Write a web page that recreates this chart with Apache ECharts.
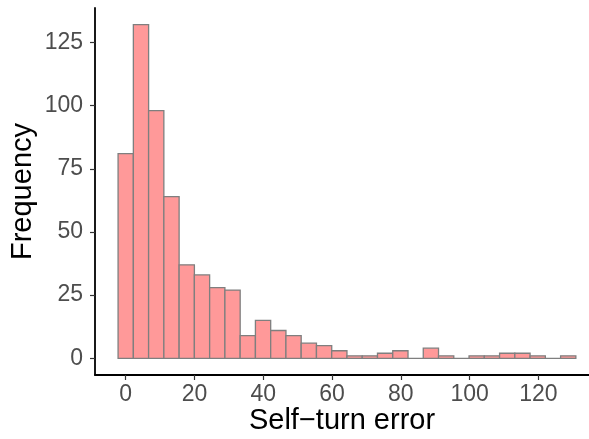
<!DOCTYPE html>
<html>
<head>
<meta charset="utf-8">
<script src="https://cdn.jsdelivr.net/npm/echarts@6/dist/echarts.min.js"></script>
<style>
html,body{margin:0;padding:0;background:#fff;}
#chart{width:589px;height:439px;}
</style>
</head>
<body>
<div id="chart"></div>
<script>
// Histogram bins (centres) and counts
const binCenters = [0, 4.44, 8.87, 13.31, 17.75, 22.18, 26.62, 31.06, 35.49, 39.93,
  44.37, 48.8, 53.24, 57.68, 62.11, 66.55, 70.99, 75.42, 79.86, 84.3,
  88.73, 93.17, 97.61, 102.04, 106.48, 110.92, 115.35, 119.79, 124.23, 128.66];
const binWidth = 4.437;
const counts = [81, 132, 98, 64, 37, 33, 28, 27, 9, 15,
  11, 9, 6, 5, 3, 1, 1, 2, 3, 0,
  4, 1, 0, 1, 1, 2, 2, 1, 0, 1];
const xTicks = [0, 20, 40, 60, 80, 100, 120];
const yTicks = [0, 25, 50, 75, 100, 125];
const xTitle = 'Self\u2212turn error';
const yTitle = 'Frequency';

const data = binCenters.map((c, i) => [c, counts[i]]);
const font = '"Liberation Sans", Arial, Helvetica, sans-serif';

const chart = echarts.init(document.getElementById('chart'), null, {renderer: 'canvas'});
chart.setOption({
  animation: false,
  backgroundColor: '#ffffff',
  grid: {left: 95, right: 0, top: 8, bottom: 64, containLabel: false, outerBoundsMode: 'none'},
  xAxis: {
    type: 'value',
    min: -8.93, max: 134.7,
    name: xTitle,
    nameLocation: 'middle',
    nameGap: 31,
    nameMoveOverlap: false,
    nameTextStyle: {fontSize: 29, color: '#000', fontFamily: font},
    axisLine: {show: true, onZero: false, lineStyle: {color: '#000', width: 1.8}},
    axisTick: {show: true, length: 5, customValues: xTicks, lineStyle: {color: '#333', width: 1.2}},
    axisLabel: {customValues: xTicks, color: '#4D4D4D', fontSize: 23, margin: 8, fontFamily: font},
    splitLine: {show: false}
  },
  yAxis: {
    type: 'value',
    min: -6.6, max: 138.6,
    name: yTitle,
    nameLocation: 'middle',
    nameGap: 58,
    nameMoveOverlap: false,
    nameRotate: 90,
    nameTextStyle: {fontSize: 29, color: '#000', fontFamily: font},
    axisLine: {show: true, onZero: false, lineStyle: {color: '#000', width: 1.8}},
    axisTick: {show: true, length: 5, customValues: yTicks, lineStyle: {color: '#333', width: 1.2}},
    axisLabel: {customValues: yTicks, color: '#4D4D4D', fontSize: 23, margin: 12, fontFamily: font},
    splitLine: {show: false}
  },
  series: [{
    type: 'custom',
    data: data,
    renderItem: function (params, api) {
      const c = api.value(0), v = api.value(1);
      const p0 = api.coord([c - binWidth / 2, 0]);
      const p1 = api.coord([c + binWidth / 2, v]);
      return {
        type: 'rect',
        shape: {x: p0[0], y: p1[1], width: p1[0] - p0[0], height: p0[1] - p1[1]},
        style: {fill: '#FF9999', stroke: '#7F7F7F', lineWidth: 1.3}
      };
    }
  }]
});
</script>
</body>
</html>
